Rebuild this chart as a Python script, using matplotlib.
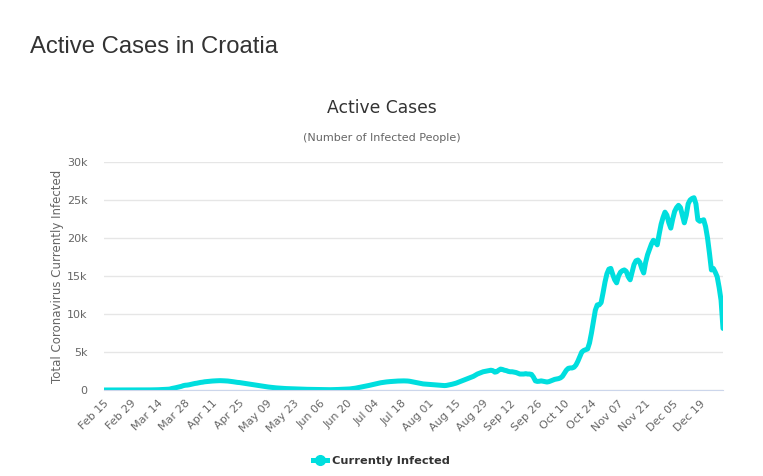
import numpy as np
import pandas as pd
import matplotlib
matplotlib.use("Agg")
import matplotlib.pyplot as plt

# active cases, one value per day starting Feb 15 2020
active = [
    0, 0, 0, 0, 0, 0, 0, 0, 0, 0,
    1, 3, 5, 6, 7, 7, 7, 9, 9, 10,
    11, 11, 12, 12, 14, 16, 26, 30, 35, 46,
    54, 64, 79, 100, 122, 194, 239, 297, 357, 416,
    480, 572, 625, 644, 686, 749, 811, 860, 895, 946,
    1000, 1030, 1080, 1100, 1130, 1160, 1180, 1200, 1210, 1220,
    1230, 1225, 1210, 1200, 1180, 1150, 1120, 1080, 1040, 1000,
    980, 940, 900, 860, 820, 780, 740, 700, 660, 620,
    580, 540, 500, 460, 420, 390, 360, 330, 300, 280,
    260, 240, 220, 200, 190, 180, 170, 160, 150, 140,
    130, 120, 110, 100, 95, 90, 85, 80, 75, 70,
    70, 65, 60, 55, 50, 45, 40, 40, 45, 55,
    60, 70, 80, 90, 100, 110, 120, 140, 170, 200,
    240, 290, 340, 390, 440, 490, 540, 600, 660, 720,
    780, 840, 900, 950, 990, 1030, 1060, 1090, 1110, 1130,
    1150, 1170, 1180, 1190, 1200, 1200, 1190, 1180, 1150, 1100,
    1050, 1000, 950, 900, 850, 800, 780, 760, 740, 720,
    700, 680, 660, 640, 620, 600, 580, 600, 650, 700,
    760, 830, 900, 1000, 1100, 1200, 1300, 1400, 1500, 1600,
    1700, 1800, 1950, 2100, 2200, 2300, 2400, 2450, 2500, 2550,
    2600, 2550, 2350, 2400, 2600, 2750, 2700, 2600, 2550, 2450,
    2400, 2400, 2350, 2300, 2200, 2100, 2100, 2100, 2150, 2100,
    2100, 2050, 1700, 1200, 1130, 1150, 1200, 1150, 1100, 1050,
    1100, 1200, 1300, 1400, 1450, 1500, 1600, 1800, 2200, 2600,
    2850, 2900, 2900, 3000, 3300, 3800, 4400, 5000, 5200, 5300,
    5400, 6200, 7500, 9000, 10500, 11200, 11200, 11500, 12800, 14200,
    15300, 15900, 16000, 15200, 14500, 14100, 15000, 15500, 15700, 15800,
    15600, 14900, 14500, 15500, 16500, 17000, 17100, 16800, 16000, 15400,
    16800, 17800, 18500, 19200, 19700, 19500, 19100, 20500, 21800, 22700,
    23400, 23000, 22000, 21300, 22500, 23500, 24000, 24300, 24000, 23000,
    22000, 23000, 24500, 25000, 25200, 25300, 24500, 22400, 22200, 22300,
    22400, 21500, 20000, 18000, 15800, 16000, 15500, 14900, 13500, 11800,
    8100,
]
dates = pd.date_range("2020-02-15", periods=len(active), freq="D")

y_ticks = [0, 5000, 10000, 15000, 20000, 25000, 30000]
y_labels = ["0", "5k", "10k", "15k", "20k", "25k", "30k"]

fig = plt.figure(figsize=(7.63, 4.76), dpi=100)
ax = fig.add_axes([104/763, 1-390/476, (723-104)/763, (390-162)/476])

ax.plot(dates, active, color="#00dede", lw=3.6, solid_capstyle="round",
        solid_joinstyle="round", label="Currently Infected")

ax.set_xlim(dates[0], dates[-1])
ax.set_ylim(0, 30000)
ax.set_yticks(y_ticks)
ax.set_yticklabels(y_labels)
ax.set_xticks(dates[::14])
ax.set_xticklabels([d.strftime("%b %d") for d in dates[::14]],
                   rotation=45, ha="right", va="top", rotation_mode="anchor")

ax.grid(axis="y", color="#e6e6e6", lw=1)
ax.set_axisbelow(True)
for s in ["top", "right", "left"]:
    ax.spines[s].set_visible(False)
ax.spines["bottom"].set_color("#ccd6eb")
ax.tick_params(axis="both", length=0, colors="#666666", labelsize=8)
ax.tick_params(axis="y", pad=12)
ax.tick_params(axis="x", pad=6)

ax.set_ylabel("Total Coronavirus Currently Infected", color="#666666",
              fontsize=8.5, labelpad=2)

fig.text(30/763, 1-47/476, "Active Cases in Croatia", fontsize=17.2,
         color="#333333", family="Liberation Sans", va="center", ha="left")
fig.text(0.5, 1-108/476, "Active Cases", fontsize=12.3, color="#333333",
         ha="center", va="center")
fig.text(0.5, 1-138/476, "(Number of Infected People)", fontsize=8,
         color="#666666", ha="center", va="center")

h, = ax.plot([], [], color="#00dede", lw=3.6, marker="o", markersize=7)
leg = fig.legend([h], ["Currently Infected"], loc="center",
                 bbox_to_anchor=(0.5, 1-461/476), frameon=False,
                 prop={"weight": "bold", "size": 8.2}, handlelength=1.2,
                 handletextpad=0.4)
for t in leg.get_texts():
    t.set_color("#333333")

fig.savefig("out.png", dpi=100)
